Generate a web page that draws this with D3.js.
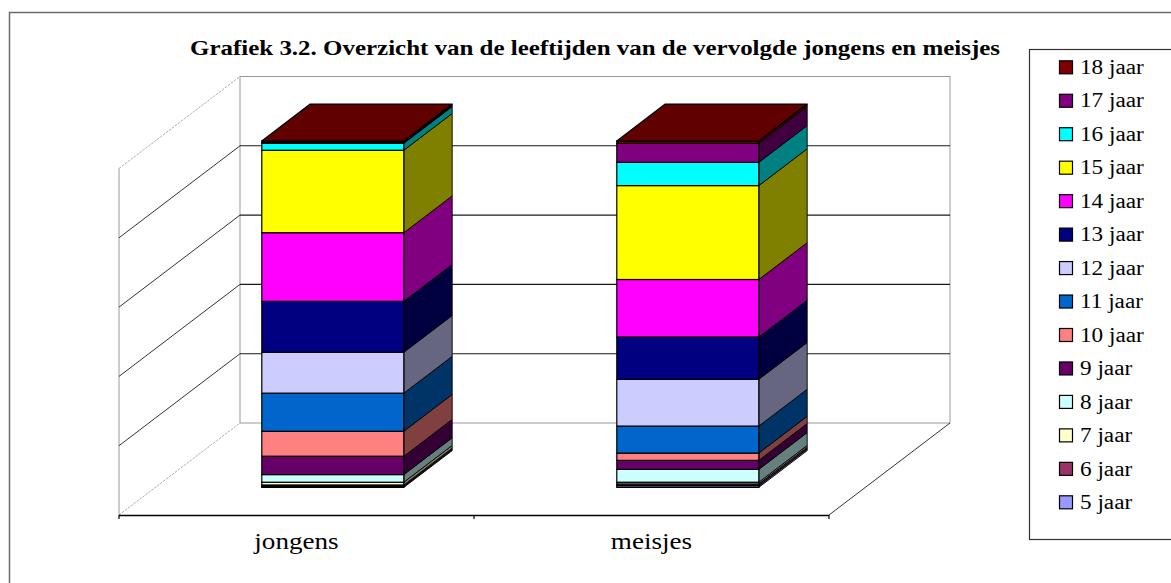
<!DOCTYPE html>
<html><head><meta charset="utf-8">
<script src="https://cdn.jsdelivr.net/npm/d3@7"></script>
<style>body{margin:0;background:#fff} svg{display:block}</style>
</head><body>
<svg id="c" width="1171" height="583"></svg>
<script>
const categories = ["jongens", "meisjes"];
const ageLabels = ["5 jaar","6 jaar","7 jaar","8 jaar","9 jaar","10 jaar","11 jaar","12 jaar","13 jaar","14 jaar","15 jaar","16 jaar","17 jaar","18 jaar"];
const jongens = [0.3, 0.4, 0.8, 2.2, 5.3, 7.2, 11.0, 11.8, 14.7, 19.8, 23.8, 2.0, 0.3, 0.4];
const meisjes = [0.5, 0.5, 0.5, 3.7, 2.6, 2.1, 7.8, 13.5, 12.2, 16.6, 27.1, 6.7, 5.5, 0.7];
const gridTicks = [0, 20, 40, 60, 80, 100];
const titleText = "Grafiek 3.2. Overzicht van de leeftijden van de vervolgde jongens en meisjes";
const palette = ["#9999FF","#993366","#FFFFCC","#CCFFFF","#660066","#FF8080","#0066CC","#CCCCFF","#000080","#FF00FF","#FFFF00","#00FFFF","#800080","#800000"];

const svg = d3.select("#c");
const FONT = "'Liberation Serif','Times New Roman',serif";
const DX = 121, DY = 92;

const x = d3.scaleBand().domain(categories).range([119, 829]).paddingInner(0).paddingOuter(0);
const y = d3.scaleLinear().domain([0, 100]).range([515, 168.5]);
const proj = (xf, v, d) => [xf + d * DX, y(v) - d * DY];
const X0 = x.range()[0], X1 = x.range()[1];

// outer frame
svg.append("rect").attr("x", 9.5).attr("y", 12.5).attr("width", 1250).attr("height", 650)
  .attr("fill", "none").attr("stroke", "#6b6b6b").attr("stroke-width", 1.5);

const walls = svg.append("g");
// back wall
const bl = proj(X0, 0, 1), tr = proj(X1, 100, 1);
walls.append("rect").attr("x", bl[0]).attr("y", tr[1]).attr("width", tr[0] - bl[0]).attr("height", bl[1] - tr[1])
  .attr("fill", "none").attr("stroke", "#9a9a9a").attr("stroke-width", 1);
// left wall front edge
walls.append("line").attr("x1", X0).attr("x2", X0).attr("y1", y(0)).attr("y2", y(100))
  .attr("stroke", "#9a9a9a");
// gridlines
gridTicks.forEach(t => {
  const a = proj(X0, t, 0), b = proj(X0, t, 1), c = proj(X1, t, 1);
  const edge = (t === 0 || t === 100);
  walls.append("line").attr("x1", a[0]).attr("y1", a[1]).attr("x2", b[0]).attr("y2", b[1])
    .attr("stroke", edge ? "#aaa" : "#333").attr("stroke-width", 1).attr("stroke-dasharray", edge ? "2.5,1.2" : null);
  if (!edge) {
    walls.append("line").attr("x1", b[0]).attr("y1", b[1]).attr("x2", c[0]).attr("y2", c[1])
      .attr("stroke", "#1a1a1a").attr("stroke-width", 1.1);
  }
});
// floor right edge
{
  const a = proj(X1, 0, 0), b = proj(X1, 0, 1);
  walls.append("line").attr("x1", a[0]).attr("y1", a[1]).attr("x2", b[0]).attr("y2", b[1])
    .attr("stroke", "#333").attr("stroke-width", 1);
}
// category axis
walls.append("line").attr("x1", X0).attr("x2", X1).attr("y1", y(0) + 0.5).attr("y2", y(0) + 0.5)
  .attr("stroke", "#000").attr("stroke-width", 1.5);
[X0, x(categories[1]), X1].forEach(tx => {
  walls.append("line").attr("x1", tx).attr("x2", tx).attr("y1", y(0)).attr("y2", y(0) + 4)
    .attr("stroke", "#000").attr("stroke-width", 1.2);
});

// stacked data
const table = categories.map((c, i) => {
  const row = { cat: c };
  const vals = i === 0 ? jongens : meisjes;
  ageLabels.forEach((a, k) => row[a] = vals[k]);
  return row;
});
const series = d3.stack().keys(ageLabels)(table);
const color = d3.scaleOrdinal().domain(ageLabels).range(palette);
const shade = (c, f) => { const r = d3.rgb(c); return d3.rgb(r.r * f, r.g * f, r.b * f).formatHex(); };

const d0 = 0.3, d1 = 0.7;
const bw = x.bandwidth() / 2.5;
const bars = svg.append("g");
categories.forEach((cat, ci) => {
  const left = x(cat) + (x.bandwidth() - bw) / 2, right = left + bw;
  const segs = series.map(s => ({ key: s.key, v0: s[ci][0], v1: s[ci][1] })).filter(s => s.v1 - s.v0 > 0);
  const g = bars.append("g");
  // side faces
  g.selectAll("polygon.side").data(segs).join("polygon").attr("class", "side")
    .attr("points", s => [proj(right, s.v0, d0), proj(right, s.v0, d1), proj(right, s.v1, d1), proj(right, s.v1, d0)].map(p => p.join(",")).join(" "))
    .attr("fill", s => shade(color(s.key), 0.5)).attr("stroke", "#000").attr("stroke-width", 0.9).attr("stroke-linejoin", "round");
  // front faces
  g.selectAll("rect.front").data(segs).join("rect").attr("class", "front")
    .attr("x", left + d0 * DX).attr("width", bw)
    .attr("y", s => y(s.v1) - d0 * DY).attr("height", s => y(s.v0) - y(s.v1))
    .attr("fill", s => color(s.key)).attr("stroke", "#000").attr("stroke-width", 1.2);
  // top face
  const top = segs[segs.length - 1];
  g.append("polygon")
    .attr("points", [proj(left, top.v1, d0), proj(right, top.v1, d0), proj(right, top.v1, d1), proj(left, top.v1, d1)].map(p => p.join(",")).join(" "))
    .attr("fill", shade(color(top.key), 0.75)).attr("stroke", "#000").attr("stroke-width", 1.2).attr("stroke-linejoin", "round");
});

function stretch(sel, factor, target) {
  sel.each(function () {
    const w = this.getComputedTextLength();
    d3.select(this).attr("textLength", target || w * factor).attr("lengthAdjust", "spacingAndGlyphs");
  });
}

// category labels
svg.append("g").selectAll("text").data(categories).join("text")
  .attr("x", c => x(c) + x.bandwidth() / 2).attr("y", 549)
  .attr("text-anchor", "middle").attr("font-family", FONT).attr("font-size", 24).attr("fill", "#000")
  .text(c => c).call(stretch, 1.13);

// title
svg.append("text").attr("x", 190).attr("y", 55).attr("font-family", FONT).attr("font-size", 21)
  .attr("font-weight", "bold").attr("fill", "#000").text(titleText).call(stretch, 1, 810);

// legend
const lg = svg.append("g");
lg.append("rect").attr("x", 1029.5).attr("y", 49.5).attr("width", 145).attr("height", 490)
  .attr("fill", "#fff").attr("stroke", "#333").attr("stroke-width", 1.2);
const legendKeys = ageLabels.slice().reverse();
const ly = d3.scalePoint().domain(legendKeys).range([67.3, 502.3]);
const items = lg.selectAll("g.item").data(legendKeys).join("g").attr("class", "item")
  .attr("transform", k => `translate(0,${ly(k)})`);
items.append("rect").attr("x", 1059.5).attr("y", -6.5).attr("width", 13).attr("height", 13)
  .attr("fill", k => color(k)).attr("stroke", "#000").attr("stroke-width", 1.2);
items.append("text").attr("x", 1080).attr("y", 6.7).attr("font-family", FONT).attr("font-size", 20)
  .attr("fill", "#000").text(k => k).call(stretch, 1.16);
</script>
</body></html>
